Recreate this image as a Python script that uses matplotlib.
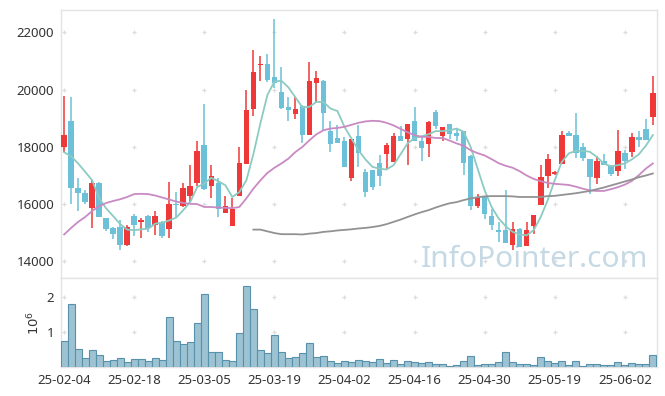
"""Daily candles with 5/20/60-day moving averages and volume (25-02-04 .. 25-06-10)."""

import numpy as np
import matplotlib
matplotlib.use("Agg")
import matplotlib.pyplot as plt
from matplotlib import font_manager

# ---------------------------------------------------------------------------
# Data
# ---------------------------------------------------------------------------
TRADE_DAYS = {
    "02": "04 05 06 07 10 11 12 13 14 17 18 19 20 21 24 25 26 27 28",
    "03": "04 05 06 07 10 11 12 13 14 17 18 19 20 21 24 25 26 27 28 31",
    "04": "01 02 03 04 07 08 09 10 11 14 15 16 17 18 21 22 23 24 25 28 29 30",
    "05": "02 07 08 09 12 13 14 15 16 19 20 21 22 23 26 27 28 29 30",
    "06": "02 04 05 09 10",
}
DATES = [f"25-{m}-{d}" for m, days in TRADE_DAYS.items() for d in days.split()]

OPEN = [18000, 18900, 16580, 16400, 15870, 16730, 15500, 15160, 15200, 14560,
        15570, 15380, 15570, 15270, 15370, 15130, 16010, 15930, 16270, 16740,
        18060, 16640, 16730, 15700, 15240, 16290, 17390, 19310, 20850, 20890,
        20440, 19910, 19390, 19140, 19420, 18420, 20240, 20300, 18560, 18310,
        18200, 16920, 18390, 17110, 17180, 17420, 17760, 17480, 18370, 18280,
        18900, 18200, 18100, 19210, 18380, 18790, 18490, 18550, 17690, 15940,
        16250, 15580, 15090, 15090, 14570, 15140, 14540, 15250, 15970, 16990,
        17050, 17400, 18470, 18420, 17990, 17570, 16920, 17500, 17340, 17170,
        17790, 17830, 18350, 18630, 19030]
HIGH = [19780, 19730, 16900, 16480, 16830, 16760, 15520, 15200, 15430, 15260,
        15640, 15520, 15620, 15750, 15400, 16790, 16440, 16740, 17350, 18190,
        19480, 17350, 16920, 16280, 16210, 17980, 20000, 21400, 21160, 21230,
        22450, 20780, 19730, 19730, 19460, 20960, 20660, 20320, 18910, 18750,
        18350, 18280, 18780, 17240, 17200, 17730, 18120, 18470, 18730, 18800,
        19380, 18340, 18900, 19280, 18690, 18800, 18660, 18560, 17700, 16370,
        16260, 15830, 15370, 16480, 15380, 15150, 15370, 15620, 17350, 17740,
        17160, 18550, 18550, 19200, 18120, 17580, 17690, 17750, 17350, 18580,
        17880, 18470, 18550, 18970, 20480]
LOW = [17830, 16000, 15750, 16000, 15150, 15540, 15060, 14780, 14410, 14530,
       14870, 14800, 15010, 14920, 14830, 14830, 15550, 15900, 16080, 16620,
       16500, 16220, 15550, 15680, 15220, 16290, 17390, 19070, 20300, 20270,
       20040, 19340, 18900, 18960, 18120, 18400, 19570, 18570, 17820, 18120,
       17300, 16800, 17290, 16240, 16510, 16640, 17210, 17480, 18220, 17350,
       18210, 17520, 17630, 18630, 18200, 18290, 18220, 17000, 15810, 15870,
       15480, 15100, 14670, 14630, 14410, 14490, 14520, 14940, 15970, 16580,
       17000, 17400, 18370, 17620, 17500, 16340, 16720, 17360, 16990, 16990,
       17230, 17640, 18000, 18240, 18750]
CLOSE = [18400, 16570, 16390, 16080, 16740, 15550, 15130, 14960, 14560, 15210,
         15270, 15450, 15150, 15600, 14890, 16000, 15960, 16550, 16620, 17840,
         16520, 16980, 15820, 15950, 15840, 17430, 19280, 20610, 20900, 20330,
         20220, 19360, 19300, 19340, 18410, 20300, 20390, 19190, 18090, 18140,
         17300, 18280, 17790, 16420, 16600, 16990, 18060, 18370, 18220, 18790,
         18210, 17960, 18860, 18720, 18690, 18460, 18370, 17440, 15940, 16240,
         15640, 15260, 15020, 14630, 15140, 14490, 15090, 15620, 16940, 17590,
         17110, 18410, 18370, 17790, 17620, 16940, 17500, 17360, 17050, 17850,
         17520, 18340, 18230, 18240, 19870]

MA5 = [17810, 17670, 17420, 17130, 16830, 16200, 15850, 15580, 15300, 15110,
       15090, 15120, 15140, 15320, 15350, 15430, 15530, 15790, 16080, 16600,
       16720, 16920, 16800, 16660, 16250, 16420, 16830, 17740, 18820, 19810,
       20280, 20310, 20080, 19730, 19380, 19400, 19570, 19570, 19340, 19250,
       18700, 18290, 17880, 17560, 17300, 17240, 17210, 17360, 17740, 18120,
       18310, 18370, 18440, 18550, 18550, 18580, 18640, 18530, 18000, 17240,
       16480, 15900, 15500, 15230, 15030, 14940, 14910, 15090, 15550, 16140,
       16830, 17470, 17770, 17860, 17860, 17830, 17650, 17420, 17320, 17360,
       17420, 17560, 17740, 18040, 18410]
MA20 = [14940, 15170, 15380, 15550, 15760, 15930, 16040, 16110, 16170, 16250,
        16350, 16360, 16350, 16300, 16230, 16160, 16090, 16040, 16010, 16000,
        15900, 15900, 15880, 15870, 15860, 15900, 16200, 16540, 16830, 17090,
        17270, 17420, 17590, 17820, 18000, 18230, 18440, 18580, 18640, 18660,
        18700, 18770, 18840, 18890, 18910, 18900, 18840, 18750, 18630, 18510,
        18410, 18350, 18350, 18310, 18310, 18220, 18120, 18040, 17880, 17780,
        17700, 17570, 17430, 17340, 17270, 17150, 17000, 16880, 16800, 16740,
        16710, 16690, 16670, 16610, 16540, 16480, 16460, 16460, 16520, 16590,
        16680, 16810, 17010, 17240, 17420]
# 60-day average only exists from the 28th session on
MA60 = [np.nan] * 27 + [
    15110, 15110, 15050, 14990, 14950, 14950, 14950, 14940, 14970, 14990,
    15030, 15050, 15080, 15100, 15120, 15150, 15170, 15200, 15240, 15300,
    15380, 15460, 15550, 15640, 15720, 15790, 15880, 15960, 16030, 16070,
    16140, 16200, 16240, 16270, 16280, 16280, 16280, 16270, 16250, 16250,
    16250, 16250, 16280, 16290, 16320, 16350, 16380, 16420, 16460, 16520,
    16580, 16650, 16720, 16790, 16860, 16940, 17000, 17070]

VOLUME = [750000, 1810000, 520000, 270000, 500000, 350000, 180000, 210000, 270000, 150000,
          240000, 240000, 180000, 270000, 210000, 1440000, 750000, 670000, 720000, 1270000,
          2100000, 440000, 440000, 210000, 180000, 980000, 2320000, 1670000, 500000, 410000,
          920000, 440000, 270000, 300000, 410000, 700000, 300000, 320000, 180000, 120000,
          180000, 150000, 210000, 180000, 150000, 240000, 120000, 210000, 100000, 180000,
          150000, 120000, 150000, 100000, 100000, 30000, 70000, 180000, 320000, 70000,
          100000, 100000, 150000, 440000, 150000, 100000, 100000, 70000, 300000, 180000,
          120000, 180000, 70000, 180000, 40000, 100000, 100000, 70000, 70000, 150000,
          70000, 120000, 100000, 100000, 350000]

PRICE_TICKS = [14000, 16000, 18000, 20000, 22000]
VOL_TICKS = [1e6, 2e6]
XTICK_STEP = 10

# ---------------------------------------------------------------------------
# Style
# ---------------------------------------------------------------------------
UP_COLOR = "#ef3838"
DOWN_COLOR = "#6cc0d8"
MA_COLORS = {"ma5": "#8ccbc2", "ma20": "#c98ac3", "ma60": "#929292"}
VOL_FACE = "#9dc3d3"
VOL_EDGE = "#5891ab"
FRAME = "#e3e3e3"
GRIDMARK = "#dcdcdc"
TEXT = "#333333"

_names = {f.name for f in font_manager.fontManager.ttflist}
if "Liberation Sans Narrow" in _names:
    FONT, TICK_FS, WM_FS = "Liberation Sans Narrow", 11.5, 27
else:
    FONT, TICK_FS, WM_FS = "Noto Sans", 9.5, 21.5
plt.rcParams["font.family"] = [FONT, "DejaVu Sans"]


def style_axes(ax):
    for sp in ax.spines.values():
        sp.set_edgecolor(FRAME)
        sp.set_linewidth(1.0)
    ax.tick_params(length=0, colors=TEXT, labelsize=TICK_FS, pad=5)


def grid_marks(ax, xs, ys):
    gx, gy = np.meshgrid(xs, ys)
    ax.scatter(gx.ravel(), gy.ravel(), marker="+", s=9, color=GRIDMARK,
               linewidths=0.9, zorder=1, clip_on=False)


x = np.arange(len(DATES))
o, h, l, c = (np.asarray(a, dtype=float) for a in (OPEN, HIGH, LOW, CLOSE))
colors = np.where(c >= o, UP_COLOR, DOWN_COLOR)

fig = plt.figure(figsize=(6.65, 3.96), dpi=100)
ax = fig.add_axes([0.0917, 0.298, 0.8958, 0.6767])
axv = fig.add_axes([0.0917, 0.0725, 0.8958, 0.2255], sharex=ax)

# price panel
xtick_pos = x[::XTICK_STEP]
grid_marks(ax, xtick_pos, PRICE_TICKS)
ax.vlines(x, l, h, colors=colors, linewidth=1.1, zorder=2)
ax.bar(x, np.abs(c - o), bottom=np.minimum(o, c), width=0.8,
       color=colors, linewidth=0, zorder=3)
ax.plot(x, MA5, color=MA_COLORS["ma5"], lw=1.3, zorder=4)
ax.plot(x, MA20, color=MA_COLORS["ma20"], lw=1.3, zorder=4)
ax.plot(x, MA60, color=MA_COLORS["ma60"], lw=1.3, zorder=4)

ax.set_xlim(-0.45, len(DATES) - 0.45)
ax.set_ylim(13420, 22780)
ax.set_yticks(PRICE_TICKS)
ax.tick_params(axis="x", labelbottom=False)
style_axes(ax)

ax.text(0.985, 0.041, "InfoPointer.com", transform=ax.transAxes,
        ha="right", va="baseline", fontsize=WM_FS, color="#bfd5e2",
        alpha=0.9, zorder=0.5)

# volume panel
grid_marks(axv, xtick_pos, VOL_TICKS)
axv.bar(x, VOLUME, width=1.0, color=VOL_FACE, edgecolor=VOL_EDGE,
        linewidth=0.8, zorder=3)
axv.set_ylim(0, 2.55e6)
axv.set_yticks(VOL_TICKS)
axv.set_yticklabels([f"{v / 1e6:g}" for v in VOL_TICKS])
axv.set_ylabel(r"$10^6$", color=TEXT, fontsize=TICK_FS, labelpad=3)
axv.set_xticks(xtick_pos)
axv.set_xticklabels([DATES[i] for i in xtick_pos])
style_axes(axv)

fig.savefig("out.png", dpi=100)
